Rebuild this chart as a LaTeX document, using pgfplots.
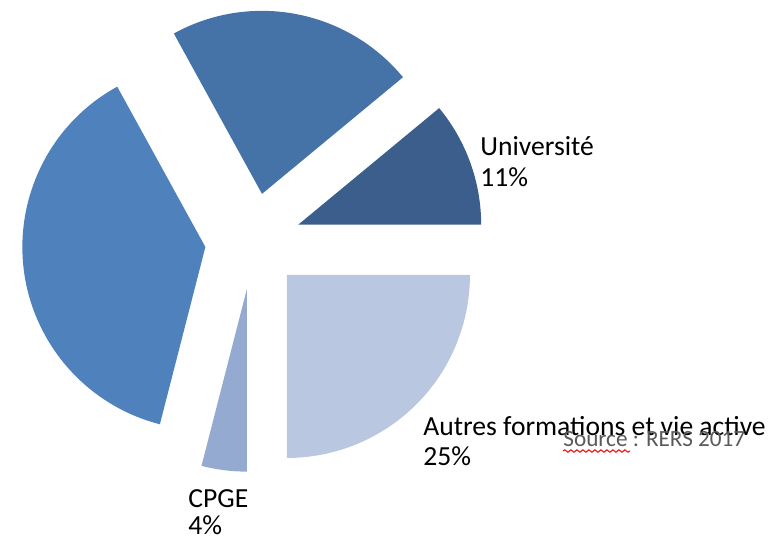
\documentclass[border=0pt]{standalone}
\usepackage{pgfplots}
\pgfplotsset{compat=1.18}
\usepackage{fontspec}
\setmainfont{Carlito}
\usetikzlibrary{decorations.pathmorphing}
\definecolor{cUniv}{HTML}{3B5E8C}
\definecolor{cTop}{HTML}{4572A7}
\definecolor{cBig}{HTML}{4F81BD}
\definecolor{cCPGE}{HTML}{95AAD1}
\definecolor{cAutres}{HTML}{B9C7E1}
\definecolor{srcgray}{HTML}{5A5A5A}
% slice: start (cumulative percent), share (percent), colour
\newcommand{\slice}[3]{%
  \fill[#3] (axis cs:{253+48*cos((#1+#2/2)*3.6)},{296+48*sin((#1+#2/2)*3.6)})
    -- ++({#1*3.6}:91.5pt)
    arc[start angle={#1*3.6}, end angle={(#1+#2)*3.6}, radius=91.5pt] -- cycle;}
\begin{document}
\begin{tikzpicture}
\useasboundingbox (0,0) rectangle (389.5pt,268.5pt);
\clip (0,0) rectangle (389.5pt,268.5pt);
\begin{axis}[
  hide axis, x=0.5pt, y=0.5pt,
  xmin=0, xmax=779, ymin=0, ymax=537,
  clip=false,
]
% shares (percent): Universite 11, (top) 22, (left) 38, CPGE 4, Autres 25
\slice{0}{11}{cUniv}
\slice{11}{22}{cTop}
\slice{33}{38}{cBig}
\slice{71}{4}{cCPGE}
\slice{75}{25}{cAutres}
\begin{scope}[every node/.style={anchor=base west, inner sep=0pt, font=\fontsize{13.8}{15}\selectfont}]
\node at (axis cs:480,{537-155}) {Université};
\node at (axis cs:480,{537-186}) {11\%};
\node at (axis cs:423,{537-435}) {Autres formations et vie active};
\node at (axis cs:423,{537-465}) {25\%};
\node at (axis cs:188,{537-507}) {CPGE};
\node at (axis cs:188,{537-534}) {4\%};
\end{scope}
\node[anchor=base west, inner sep=0pt, text=srcgray, font=\fontsize{11.6}{13}\selectfont] at (axis cs:563,{537-446}) {Source : RERS 2017};
\draw[red, line width=0.5pt, decorate, decoration={snake, amplitude=0.6pt, segment length=3pt}] (axis cs:563,{537-451}) -- (axis cs:630,{537-451});
\end{axis}
\end{tikzpicture}
\end{document}
